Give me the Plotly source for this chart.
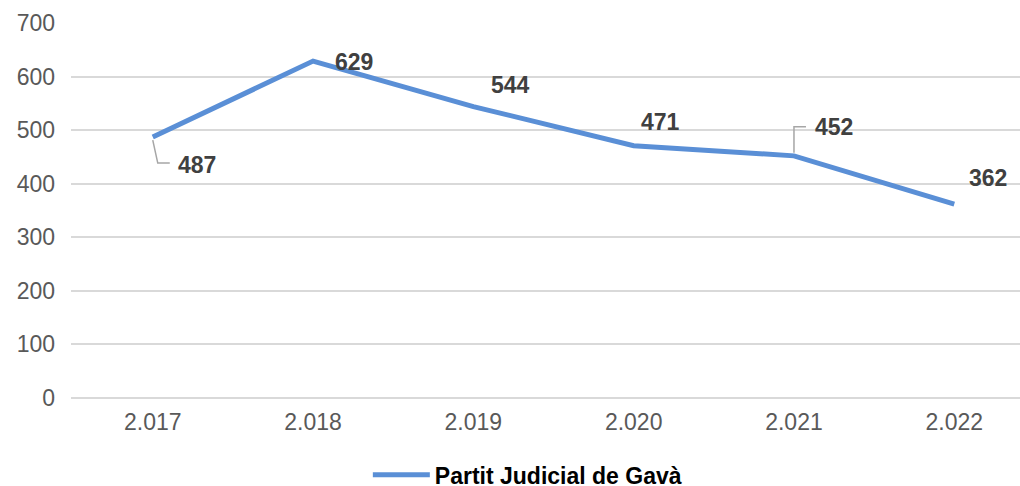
import plotly.graph_objects as go

# Series data
years = ["2.017", "2.018", "2.019", "2.020", "2.021", "2.022"]
values = [487, 629, 544, 471, 452, 362]
series_name = "Partit Judicial de Gavà"

# Per-point label offsets in pixels (dx, dy; dy positive = up)
label_dx = [44, 41, 37, 27, 40, 34]
label_dy = [-28, -1, 22, 24, 29, 26]

FONT = "Liberation Sans, Arial, sans-serif"
LINE_COLOR = "#5A8FD6"
GRID_COLOR = "#D9D9D9"
TICK_COLOR = "#595959"
LABEL_COLOR = "#404040"

fig = go.Figure()
fig.add_trace(go.Scatter(
    x=years, y=values, mode="lines", name=series_name,
    line=dict(color=LINE_COLOR, width=5),
    showlegend=True,
))

# On a category axis, annotations and shapes are placed by category index
annotations = []
for i, (v, dx, dy) in enumerate(zip(values, label_dx, label_dy)):
    annotations.append(dict(
        x=i, y=v, xref="x", yref="y", text=f"<b>{v}</b>",
        showarrow=False, xshift=dx, yshift=dy,
        font=dict(family=FONT, size=23, color=LABEL_COLOR),
    ))

# Elbow leader lines for the two labels placed away from their points
shapes = [
    dict(type="path", xref="x", yref="y", xsizemode="pixel", ysizemode="pixel",
         xanchor=0, yanchor=values[0],
         path="M 0 -3 L 5 -26 L 17 -26",
         line=dict(color="#A6A6A6", width=1.5)),
    dict(type="path", xref="x", yref="y", xsizemode="pixel", ysizemode="pixel",
         xanchor=4, yanchor=values[4],
         path="M 0 3 L 0 29 L 12 29",
         line=dict(color="#A6A6A6", width=1.5)),
]

fig.update_layout(
    width=1020, height=486,
    margin=dict(l=71, r=0, t=23, b=88),
    paper_bgcolor="white", plot_bgcolor="white",
    font=dict(family=FONT, size=23, color=TICK_COLOR),
    annotations=annotations,
    shapes=shapes,
    legend=dict(
        orientation="h", xref="container", yref="container",
        x=0.517, xanchor="center", y=0.023, yanchor="middle",
        font=dict(family=FONT, size=23, color="#000000", weight="bold"),
        itemwidth=57,
    ),
    xaxis=dict(
        type="category", range=[-0.51, 5.41],
        showgrid=False, showline=False, zeroline=False,
        tickfont=dict(family=FONT, size=23, color=TICK_COLOR),
        ticks="", ticklabelstandoff=8,
    ),
    yaxis=dict(
        range=[0, 700], dtick=100, tick0=0,
        showgrid=True, gridcolor=GRID_COLOR, gridwidth=1.5,
        zeroline=True, zerolinecolor=GRID_COLOR, zerolinewidth=1.5,
        showline=False,
        tickfont=dict(family=FONT, size=23, color=TICK_COLOR),
        ticks="", ticklabelstandoff=15,
    ),
)

fig.write_html("out.html")
